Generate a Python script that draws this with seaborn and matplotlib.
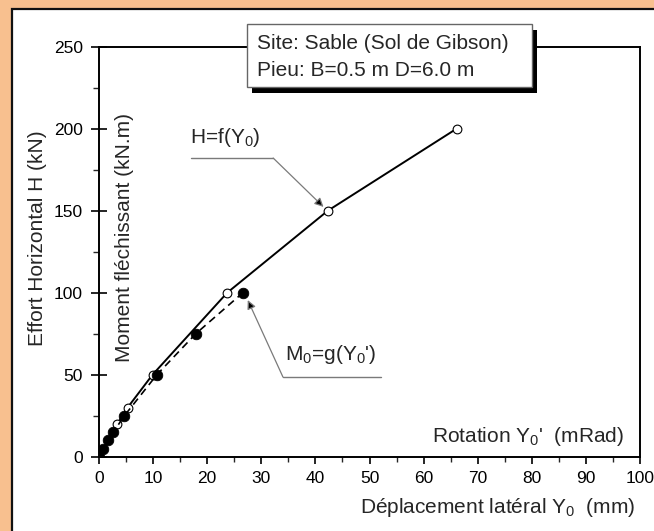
import matplotlib
matplotlib.use("Agg")
import matplotlib.pyplot as plt
from matplotlib.patches import Rectangle
from matplotlib.ticker import MultipleLocator
import seaborn as sns
import pandas as pd

# Horizontal load H (kN) versus lateral head displacement Y0 (mm)
disp_mm = [0, 3.4, 5.3, 9.9, 23.7, 42.3, 66.1]
load_kn = [0, 20, 30, 50, 100, 150, 200]

# Bending moment M0 (kN.m) versus head rotation Y0' (mRad)
rotation_mrad = [0, 0.8, 1.7, 2.65, 4.7, 10.7, 17.9, 26.6]
moment_knm = [0, 5, 10, 15, 25, 50, 75, 100]

x_ticks = [0, 10, 20, 30, 40, 50, 60, 70, 80, 90, 100]
y_ticks = [0, 50, 100, 150, 200, 250]

sns.set_theme(style="ticks")
plt.rcParams["font.family"] = ["Liberation Sans", "DejaVu Sans"]
plt.rcParams.update({
    "mathtext.fontset": "custom",
    "mathtext.rm": "Liberation Sans",
    "mathtext.it": "Liberation Sans:italic",
    "mathtext.bf": "Liberation Sans:bold",
    "mathtext.default": "regular",
})

W, H = 654, 531
fig = plt.figure(figsize=(W / 100, H / 100), dpi=100, facecolor="#F8C08F")

# white page with dark rule on its left and top edges
page = Rectangle((12 / W, -0.1), 1.2, 1 - 8.5 / H + 0.1, transform=fig.transFigure,
                 facecolor="white", edgecolor="#111111", linewidth=1.6, zorder=-5)
fig.patches.append(page)

ax = fig.add_axes([99 / W, 1 - 456.7 / H, 541 / W, 410 / H])
ax.set_facecolor("white")

h_df = pd.DataFrame({"x": disp_mm, "y": load_kn})
m_df = pd.DataFrame({"x": rotation_mrad, "y": moment_knm})

sns.lineplot(data=h_df, x="x", y="y", ax=ax, sort=False, estimator=None,
             color="black", linewidth=1.4, marker="o", markersize=6.3,
             markerfacecolor="white", markeredgecolor="black",
             markeredgewidth=0.8, zorder=3)
sns.lineplot(data=m_df, x="x", y="y", ax=ax, sort=False, estimator=None,
             color="black", linewidth=1.2, linestyle=(0, (4.5, 3)),
             marker="o", markersize=7.6, markerfacecolor="black",
             markeredgecolor="black", markeredgewidth=0.6, zorder=4)

ax.set_xlim(0, 100)
ax.set_ylim(0, 250)
ax.set_xticks(x_ticks)
ax.set_yticks(y_ticks)
ax.xaxis.set_minor_locator(MultipleLocator(5))
ax.yaxis.set_minor_locator(MultipleLocator(25))
ax.set_xlabel("")
ax.set_ylabel("")

for side in ["left", "bottom", "right", "top"]:
    ax.spines[side].set_visible(True)
    ax.spines[side].set_linewidth(1.4)
    ax.spines[side].set_color("black")

ax.tick_params(axis="x", which="major", direction="out", length=5, width=1.2,
               labelsize=12.5, pad=5, colors="black")
ax.tick_params(axis="x", which="minor", direction="out", length=3.5, width=1.0)
ax.tick_params(axis="y", which="major", direction="inout", length=11, width=1.2,
               labelsize=12.5, pad=6, colors="black")
ax.tick_params(axis="y", which="minor", direction="out", length=4, width=1.0)

label_fs = 15
ax.text(0.991, -0.137, "Déplacement latéral Y$_0$  (mm)", transform=ax.transAxes,
        ha="right", va="baseline", fontsize=label_fs)
ax.text(0.970, 0.037, "Rotation Y$_0$'  (mRad)", transform=ax.transAxes,
        ha="right", va="baseline", fontsize=label_fs)
ax.text(-0.113, 0.533, "Effort Horizontal H (kN)", transform=ax.transAxes,
        rotation=90, ha="center", va="center", fontsize=label_fs)
ax.text(0.048, 0.535, "Moment fléchissant (kN.m)", transform=ax.transAxes,
        rotation=90, ha="center", va="center", fontsize=label_fs)

# curve call-outs
leader = "#7a7a7a"
ax.text(16.9, 191.0, "H=f(Y$_0$)", ha="left", va="baseline", fontsize=label_fs)
ax.plot([17.0, 32.2], [182.1, 182.1], color=leader, lw=1.0, zorder=2)
ax.annotate("", xy=(41.5, 152.3), xytext=(32.2, 182.1),
            arrowprops=dict(arrowstyle="-|>", ec=leader, fc="black", lw=0.9,
                            mutation_scale=13, shrinkA=0, shrinkB=0))

ax.text(34.4, 59.0, "M$_0$=g(Y$_0$')", ha="left", va="baseline", fontsize=label_fs)
ax.plot([34.0, 52.1], [48.6, 48.6], color=leader, lw=1.0, zorder=2)
ax.annotate("", xy=(27.5, 95.5), xytext=(34.0, 48.6),
            arrowprops=dict(arrowstyle="-|>", ec=leader, fc="black", lw=0.9,
                            mutation_scale=13, shrinkA=0, shrinkB=0))

# site / pile caption box with drop shadow
bx0, bx1, by0, by1 = 246.7, 531.7, 24.0, 87.0
shadow = Rectangle(((bx0 + 5) / W, 1 - (by1 + 6) / H), (bx1 - bx0) / W, (by1 - by0) / H,
                   transform=fig.transFigure, facecolor="black", edgecolor="none", zorder=5)
box = Rectangle((bx0 / W, 1 - by1 / H), (bx1 - bx0) / W, (by1 - by0) / H,
                transform=fig.transFigure, facecolor="white", edgecolor="#666666",
                linewidth=1.0, zorder=6)
fig.patches.extend([shadow, box])
fig.text(257 / W, 1 - 49 / H, "Site: Sable (Sol de Gibson)", ha="left", va="baseline",
         fontsize=label_fs, zorder=7)
fig.text(257 / W, 1 - 76 / H, "Pieu: B=0.5 m D=6.0 m", ha="left", va="baseline",
         fontsize=label_fs, zorder=7)

fig.savefig("out.png", dpi=100, facecolor=fig.get_facecolor())
